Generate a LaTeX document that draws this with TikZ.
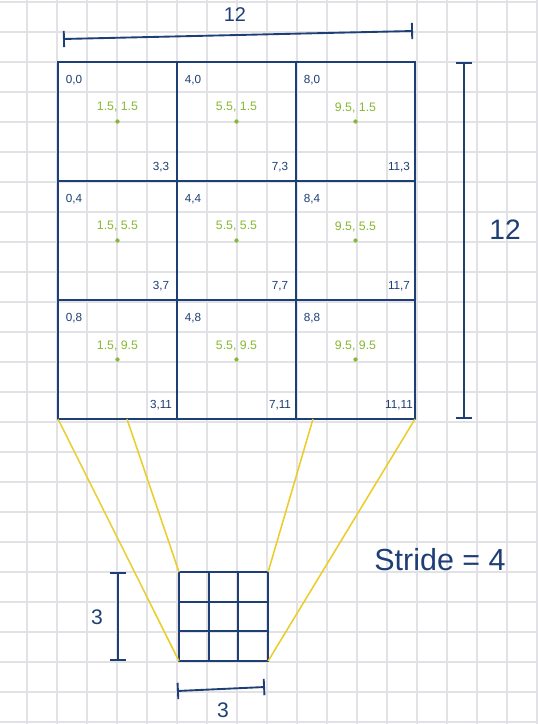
\documentclass[tikz,border=0pt]{standalone}
\usepackage{fontspec}
\setmainfont{Liberation Sans}
\usepackage{tikz}
\usetikzlibrary{arrows.meta}
\definecolor{inkblue}{HTML}{1E3F75}
\definecolor{inkgreen}{HTML}{86B832}
\definecolor{inkyellow}{HTML}{EBCD28}
\definecolor{paperline}{HTML}{E1E1E6}
\tikzset{
  paper/.style={draw=paperline, line width=0.9pt},
  cell/.style={draw=inkblue, line width=2pt, minimum size=3.57cm, inner sep=0pt, outer sep=0pt},
  kcell/.style={draw=inkblue, line width=1.6pt, minimum size=0.89cm, inner sep=0pt, outer sep=0pt},
  corner/.style={text=inkblue, font=\fontsize{10}{10}\selectfont, inner sep=0pt},
  centre/.style={text=inkgreen, font=\fontsize{10.5}{10.5}\selectfont, inner sep=0pt},
  ctrdot/.style={circle, fill=inkgreen, inner sep=0pt, minimum size=3.6pt},
  dimline/.style={draw=inkblue, line width=1.6pt, {Bar[width=14pt]}-{Bar[width=14pt]}},
  dimtxt/.style={text=inkblue, inner sep=0pt},
  field/.style={draw=inkyellow, line width=1.3pt}
}

\begin{document}
\begin{tikzpicture}[x=0.03cm, y=-0.03cm]
  \fill[white] (0,0) rectangle (538,724);
  \useasboundingbox (0,0) rectangle (538,724);

  % squared paper
  \foreach \gx in {27,57,...,537} \draw[paper] (\gx,0) -- (\gx,724);
  \foreach \gy in {2,32,...,722} \draw[paper] (0,\gy) -- (538,\gy);

  % 12 x 12 input, split into 4 x 4 blocks
  \foreach \i/\cx in {0/1.5,1/5.5,2/9.5} {
    \foreach \j/\cy in {0/1.5,1/5.5,2/9.5} {
      \pgfmathtruncatemacro\tlx{4*\i}
      \pgfmathtruncatemacro\tly{4*\j}
      \pgfmathtruncatemacro\brx{4*\i+3}
      \pgfmathtruncatemacro\bry{4*\j+3}
      \node[cell] (c\i\j) at ({117.5+119*\i},{121.5+119*\j}) {};
      \node[corner] (tl\i\j) at ([shift={(16,18)}]c\i\j.north west) {\tlx,\tly};
      \node[corner] (br\i\j) at ([shift={(-16,-14)}]c\i\j.south east) {\brx,\bry};
      \node[ctrdot] (m\i\j) at (c\i\j.center) {};
      \node[centre] (g\i\j) at ([shift={(0,-14)}]m\i\j) {\cx, \cy};
    }
  }

  % 3 x 3 output
  \foreach \i in {0,1,2} {
    \foreach \j in {0,1,2} {
      \node[kcell] (k\i\j) at ({193.85+29.7*\i},{586.85+29.7*\j}) {};
    }
  }

  % receptive field
  \coordinate (fa) at (127,419);
  \coordinate (fb) at (313,419);
  \draw[field] (c02.south west) -- (k02.south west);
  \draw[field] (fa) -- (k00.north west);
  \draw[field] (fb) -- (k20.north east);
  \draw[field] (c22.south east) -- (k22.south east);

  % sizes
  \coordinate (wl) at (63,39);
  \coordinate (wr) at (413,31);
  \draw[dimline] (wl) -- (wr);
  \node[dimtxt, font=\fontsize{17}{17}\selectfont] (wtxt) at (235,15) {12};

  \coordinate (ht) at (464,62);
  \coordinate (hb) at (464,419);
  \draw[dimline] (ht) -- (hb);
  \node[dimtxt, font=\fontsize{24}{24}\selectfont] (htxt) at (505,230) {12};

  \coordinate (kt) at (118,572);
  \coordinate (kb) at (118,661);
  \draw[dimline] (kt) -- (kb);
  \node[dimtxt, font=\fontsize{18}{18}\selectfont] (ktxt) at (97,617) {3};

  \coordinate (kl) at (177,691);
  \coordinate (kr) at (265,687);
  \draw[dimline] (kl) -- (kr);
  \node[dimtxt, font=\fontsize{18}{18}\selectfont] (kwtxt) at (223,710) {3};

  \node[dimtxt, font=\fontsize{26}{26}\selectfont] (stride) at (440,560) {Stride = 4};
\end{tikzpicture}
\end{document}
